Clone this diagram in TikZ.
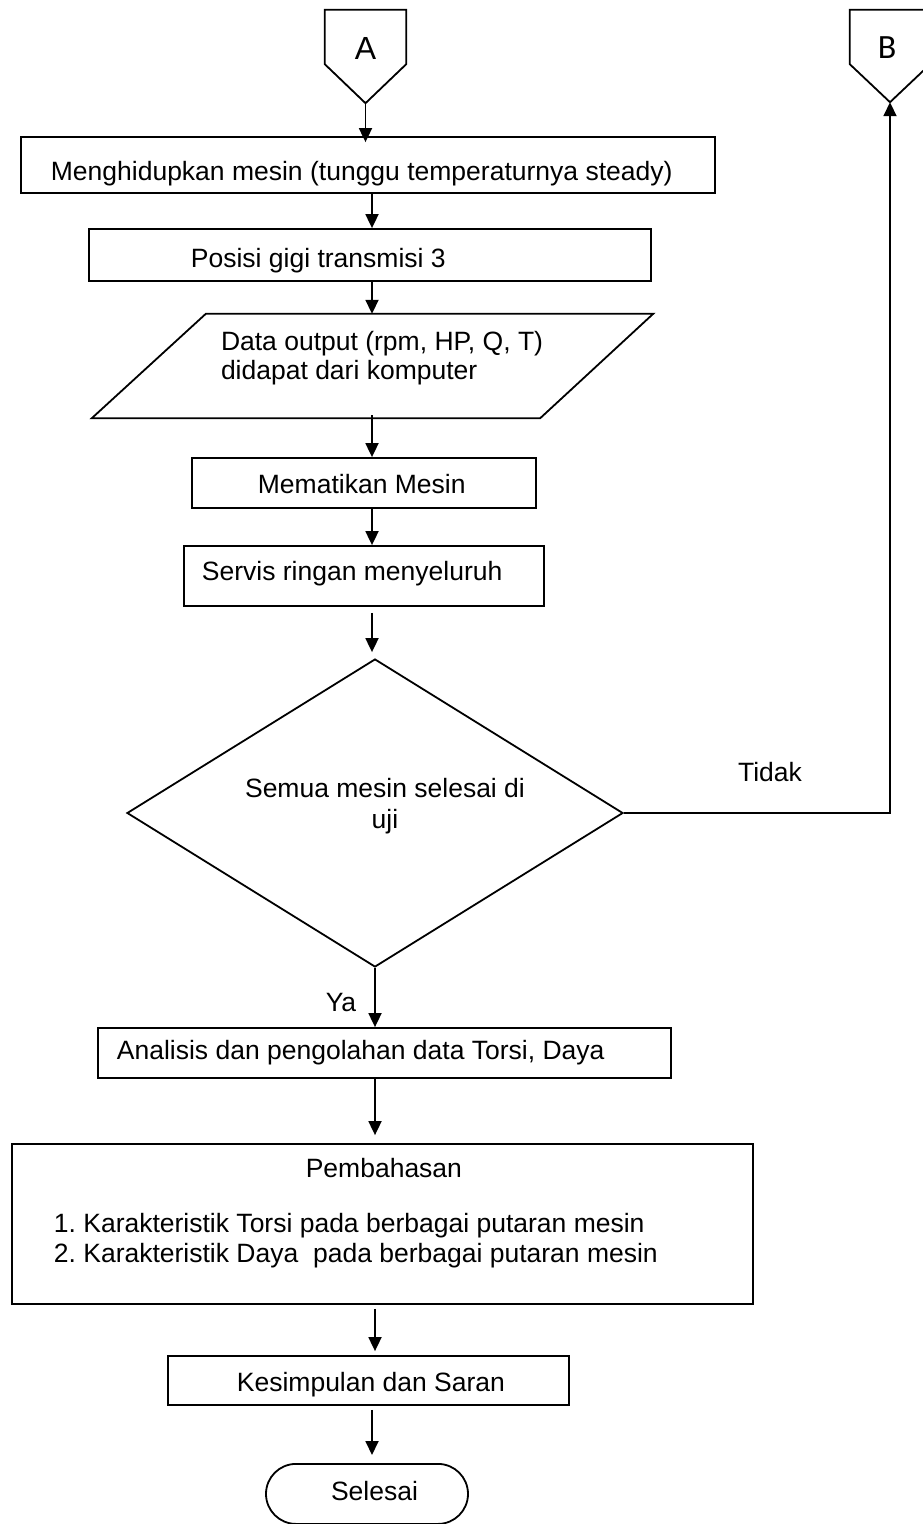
\documentclass[tikz,border=0pt]{standalone}
\usepackage{fontspec}
\setmainfont{Liberation Sans}
\newfontfamily\carlito{Carlito}
\usetikzlibrary{arrows.meta,shapes.geometric}
\tikzset{
  txt/.style={font=\fontsize{26.5pt}{30pt}\selectfont},
  procbox/.style={txt, draw, line width=1.8pt, rectangle, inner sep=0pt},
  conn/.style={line width=1.8pt},
  arr/.style={line width=1.8pt, -{Triangle[length=14pt,width=13pt]}},
}
\begin{document}
\begin{tikzpicture}[x=1pt,y=-1pt]
\useasboundingbox (0,0) rectangle (923,1524);
\clip (0,0) rectangle (923,1524);

% off-page connectors
\node[font=\fontsize{32pt}{34pt}\selectfont, minimum width=81pt, minimum height=76pt, inner sep=0pt] (A) at (365.5,48) {A};
\coordinate (Atip) at ([yshift=-17pt]A.south);
\draw[conn, line join=miter] (A.north west) -- (A.north east) -- ([yshift=22pt]A.south east) -- (Atip) -- ([yshift=22pt]A.south west) -- cycle;

\node[font=\carlito\fontsize{34pt}{36pt}\selectfont, minimum width=80pt, minimum height=76pt, inner sep=0pt] (B) at (890,48) {\hspace*{-6pt}B};
\coordinate (Btip) at ([yshift=-16pt]B.south);
\draw[conn, line join=miter] (B.north west) -- (B.north east) -- ([yshift=22pt]B.south east) -- (Btip) -- ([yshift=22pt]B.south west) -- cycle;

% process steps
\node[procbox, minimum height=56pt, text height=30pt, text depth=0pt, anchor=west] (b1) at (20,165)
  {\makebox[694pt][l]{\hspace*{30pt}Menghidupkan mesin (tunggu temperaturnya steady)}};
\node[procbox, minimum height=52pt, text height=24pt, text depth=0pt, anchor=west] (b2) at (88,255)
  {\makebox[562pt][l]{\hspace*{102pt}Posisi gigi transmisi 3}};

% data output (parallelogram)
\node[font=\fontsize{26.5pt}{29pt}\selectfont, rectangle, inner sep=0pt, minimum height=104pt, text height=20pt, text depth=52pt] (para) at (372.5,366)
  {\makebox[561pt][l]{\hspace*{129pt}\begin{tabular}[t]{@{}l@{}}Data output (rpm, HP, Q, T)\\didapat dari komputer\end{tabular}}};
\draw[conn, line join=miter] ([xshift=114pt]para.north west) -- (para.north east) -- ([xshift=-113pt]para.south east) -- (para.south west) -- cycle;

\node[procbox, minimum height=50pt, text height=20pt, text depth=0pt, anchor=west] (b3) at (191,483)
  {\makebox[344pt][l]{\hspace*{66pt}Mematikan Mesin}};
\node[procbox, minimum height=60pt, text height=20pt, text depth=12pt, anchor=west] (b4) at (183,576)
  {\makebox[360pt][l]{\hspace*{18pt}Servis ringan menyeluruh}};

% decision
\node[txt, diamond, draw, line width=1.8pt, aspect=1.61, minimum width=496pt, minimum height=308pt, inner sep=0pt, text height=20pt, text depth=52pt] (dec) at (375,813)
  {\hspace*{20pt}\begin{tabular}[t]{@{}c@{}}Semua mesin selesai di\\[1pt]uji\end{tabular}};

\node[procbox, minimum height=50pt, text height=20pt, text depth=8pt, anchor=west] (b5) at (97,1053)
  {\makebox[573pt][l]{\hspace*{19pt}Analisis dan pengolahan data Torsi, Daya}};
\node[procbox, minimum height=160pt, text height=20pt, text depth=114pt, anchor=west] (b6) at (11,1224)
  {\begin{tabular}[t]{@{}l@{}}
   \makebox[741pt][c]{\hspace*{3pt}Pembahasan}\\[25pt]
   \hspace*{42pt}1.\ Karakteristik Torsi pada berbagai putaran mesin\\
   \hspace*{42pt}2.\ Karakteristik Daya\ \ pada berbagai putaran mesin
   \end{tabular}};
\node[procbox, minimum height=49pt, text height=21pt, text depth=0pt, anchor=west] (b7) at (167,1380.5)
  {\makebox[401pt][l]{\hspace*{69pt}Kesimpulan dan Saran}};
\node[procbox, minimum height=60pt, text height=20pt, text depth=6pt, rounded corners=30pt, anchor=north] (end) at (367,1463)
  {\makebox[202pt][l]{\hspace*{65pt}Selesai}};

% labels
\node[txt] (tidak) at (770,772) {Tidak};
\node[txt] (ya) at (341,1002) {Ya};

% connectors
\coordinate (sp) at (372,0);
\draw[arr] (Atip) -- ([yshift=-6pt]b1.north -| Atip);
\draw[arr] (b1.south -| sp) -- (b2.north -| sp);
\draw[arr] (b2.south -| sp) -- (para.north -| sp);
\draw[arr] ([yshift=3pt]para.south -| sp) -- (b3.north -| sp);
\draw[arr] (b3.south -| sp) -- (b4.north -| sp);
\draw[arr] ([yshift=-6pt]b4.south -| sp) -- ([yshift=6pt]dec.north -| sp);
\draw[arr] (dec.south) -- (b5.north -| dec.south);
\draw[arr] (b5.south -| dec.south) -- ([yshift=8pt]b6.north -| dec.south);
\draw[arr] ([yshift=-4pt]b6.south -| dec.south) -- ([yshift=4pt]b7.north -| dec.south);
\draw[arr] ([yshift=-4pt]b7.south -| sp) -- ([yshift=8pt]end.north -| sp);
\draw[arr] (dec.east) -- (dec.east -| Btip) -- (Btip);
\end{tikzpicture}
\end{document}
